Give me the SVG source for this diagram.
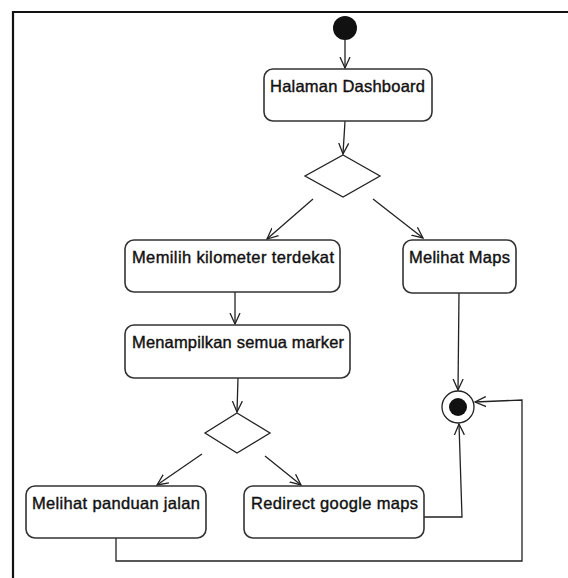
<svg xmlns="http://www.w3.org/2000/svg" width="568" height="578" viewBox="0 0 568 578">
<style>
.box{fill:#fff;stroke:#333;stroke-width:1.6}
.t{font-family:"Liberation Sans",Arial,sans-serif;font-size:16.5px;fill:#111;stroke:#111;stroke-width:0.4}
.c{fill:none;stroke:#222;stroke-width:1.3}
.dia{fill:#fff;stroke:#222;stroke-width:1.3}
</style>
<defs>
<marker id="arr" viewBox="0 0 12 12" refX="11" refY="6" markerWidth="12" markerHeight="12" markerUnits="userSpaceOnUse" orient="auto">
<path d="M0,1 L11,6 L0,11" fill="none" stroke="#222" stroke-width="1.3"/>
</marker>
</defs>
<rect width="568" height="578" fill="#fff"/>
<path d="M13,578 V12 H568" fill="none" stroke="#111" stroke-width="2.2"/>
<g id="connectors">
<path class="c" d="M345,40 L345,68" marker-end="url(#arr)"/>
<path class="c" d="M345,121 L343,154" marker-end="url(#arr)"/>
<path class="c" d="M313,199 L267,239" marker-end="url(#arr)"/>
<path class="c" d="M373,199 L423,238" marker-end="url(#arr)"/>
<path class="c" d="M235,292 L235,324" marker-end="url(#arr)"/>
<path class="c" d="M238,378 L237,412" marker-end="url(#arr)"/>
<path class="c" d="M202,454 L157,485" marker-end="url(#arr)"/>
<path class="c" d="M265,456 L301,485" marker-end="url(#arr)"/>
<path class="c" d="M459,293 L458,390" marker-end="url(#arr)"/>
<path class="c" d="M424,517 L462,517 L459,424" marker-end="url(#arr)"/>
<path class="c" d="M116,538 L116,561 L522,561 L522,400 L475,402" marker-end="url(#arr)"/>
</g>
<g id="start"><circle cx="345" cy="28" r="12" fill="#111"/></g>
<g id="halaman-dashboard"><rect class="box" x="264" y="69" width="168" height="52" rx="9"/><text class="t" x="270" y="92" textLength="155">Halaman Dashboard</text></g>
<g id="decision1"><path class="dia" d="M343,155 L380,176 L343,197 L305,176 Z"/></g>
<g id="memilih"><rect class="box" x="125" y="240" width="215" height="52" rx="9"/><text class="t" x="132" y="263" textLength="202">Memilih kilometer terdekat</text></g>
<g id="melihat-maps"><rect class="box" x="403" y="240" width="113" height="53" rx="9"/><text class="t" x="409" y="263" textLength="101">Melihat Maps</text></g>
<g id="menampilkan"><rect class="box" x="125" y="325" width="225" height="53" rx="9"/><text class="t" x="132" y="348" textLength="212">Menampilkan semua marker</text></g>
<g id="decision2"><path class="dia" d="M237,413 L270,433 L237,453 L205,433 Z"/></g>
<g id="melihat-panduan"><rect class="box" x="26" y="486" width="180" height="52" rx="9"/><text class="t" x="32" y="509" textLength="168">Melihat panduan jalan</text></g>
<g id="redirect"><rect class="box" x="244" y="486" width="180" height="52" rx="9"/><text class="t" x="251" y="509" textLength="167">Redirect google maps</text></g>
<g id="end"><circle cx="458" cy="407" r="16" fill="#fff" stroke="#222" stroke-width="1.3"/><circle cx="458" cy="407" r="9" fill="#111"/></g>
</svg>
